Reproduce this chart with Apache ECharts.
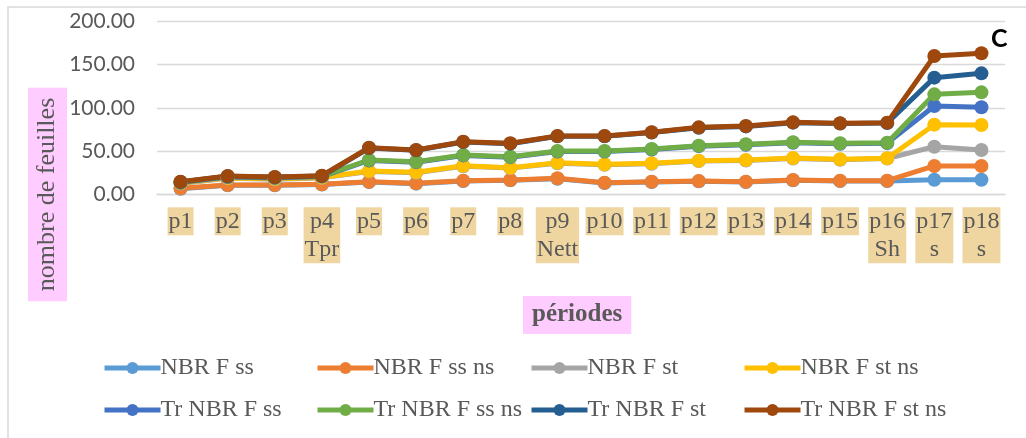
<!DOCTYPE html>
<html>
<head>
<meta charset="utf-8">
<script src="https://cdn.jsdelivr.net/npm/echarts@6/dist/echarts.min.js"></script>
<style>
  html, body { margin: 0; padding: 0; background: #ffffff; }
  #chart { width: 1026px; height: 438px; }
</style>
</head>
<body>
<div id="chart"></div>
<script>
// Periods (x categories)
const periods = ['p1', 'p2', 'p3', 'p4\nTpr', 'p5', 'p6', 'p7', 'p8', 'p9\nNett', 'p10',
                 'p11', 'p12', 'p13', 'p14', 'p15', 'p16\nSh', 'p17\ns', 'p18\ns'];

// Leaf counts per period
const nbrFss    = [6.5, 10.5, 10.5, 11.3, 14.2, 12.3, 15.3, 16.2, 18.0, 13.0, 14.2, 15.0, 14.2, 16.2, 15.3, 15.4, 16.8, 16.8];
const nbrFssNs  = [6.9, 10.8, 10.8, 11.6, 14.6, 12.7, 15.7, 16.6, 18.5, 13.4, 14.6, 15.4, 14.6, 16.6, 15.7, 15.7, 32.8, 32.8];
const nbrFst    = [12.5, 18.5, 17.5, 19.0, 26.5, 25.0, 32.5, 30.3, 36.0, 34.2, 35.4, 38.4, 39.2, 41.5, 40.0, 41.4, 55.1, 51.2];
const nbrFstNs  = [13.0, 19.0, 18.0, 19.5, 27.0, 25.5, 33.1, 30.8, 36.6, 34.7, 35.9, 38.9, 39.7, 42.0, 40.5, 41.7, 80.6, 80.2];
const trFss     = [13.5, 20.0, 19.0, 20.5, 39.2, 37.2, 45.0, 43.0, 49.6, 49.6, 51.9, 55.7, 57.4, 59.7, 58.5, 59.2, 102.2, 100.7];
const trFssNs   = [14.0, 20.5, 19.5, 21.0, 39.7, 37.7, 45.5, 43.5, 50.1, 50.1, 52.4, 56.2, 57.9, 60.2, 59.0, 59.7, 115.7, 118.0];
const trFst     = [14.2, 20.8, 19.7, 21.2, 53.5, 50.9, 60.5, 58.6, 67.1, 67.1, 71.4, 77.1, 78.6, 82.9, 81.8, 82.5, 135.0, 140.0];
const trFstNs   = [14.6, 21.2, 20.0, 21.5, 53.9, 51.3, 60.9, 59.0, 67.5, 67.5, 71.8, 77.5, 79.0, 83.3, 82.2, 82.9, 160.0, 163.2];

const seriesNames = ['NBR F ss', 'NBR F ss ns', 'NBR F st', 'NBR F st ns',
                     'Tr NBR F ss', 'Tr NBR F ss ns', 'Tr NBR F st', 'Tr NBR F st ns'];
const seriesData = [nbrFss, nbrFssNs, nbrFst, nbrFstNs, trFss, trFssNs, trFst, trFstNs];
const seriesColors = ['#5B9BD5', '#ED7D31', '#A5A5A5', '#FFC000',
                      '#4472C4', '#70AD47', '#255E91', '#9E480E'];

const yTicks = { min: 0, max: 200, interval: 50 };

const serif = '"Liberation Serif", "DejaVu Serif", serif';
const textGrey = '#595959';

const chart = echarts.init(document.getElementById('chart'), null, { renderer: 'canvas' });

// One legend block per item, laid out as a 4 x 2 grid
const legendCols = [102, 315, 529, 742];
const legendRows = [356, 398];
const legends = seriesNames.map((name, i) => ({
  data: [name],
  left: legendCols[i % 4],
  top: legendRows[Math.floor(i / 4)],
  itemWidth: 56,
  itemHeight: 15,
  itemGap: 0,
  padding: 0,
  selectedMode: false,
  lineStyle: { width: 5 },
  textStyle: { fontFamily: serif, fontSize: 24, color: textGrey, padding: [0, 0, 0, -5] }
}));

chart.setOption({
  animation: false,
  backgroundColor: '#ffffff',
  title: [
    {
      text: 'périodes',
      left: 523,
      top: 296,
      padding: [4, 9, 4, 9],
      backgroundColor: '#FFCCFF',
      textStyle: { fontFamily: serif, fontSize: 25, fontWeight: 'bold', color: textGrey, lineHeight: 30 }
    },
    {
      text: 'C',
      left: 991,
      top: 26,
      padding: 0,
      textStyle: { fontFamily: 'Lato, "Liberation Sans", sans-serif', fontSize: 25, fontWeight: 'bold', color: '#000000' }
    }
  ],
  legend: legends,
  grid: { left: 157, right: 21, top: 21.5, bottom: 243.7, containLabel: false },
  xAxis: {
    type: 'category',
    data: periods,
    boundaryGap: true,
    axisLine: { show: true, lineStyle: { color: '#D9D9D9', width: 1.3 } },
    axisTick: { show: false },
    axisLabel: {
      interval: 0,
      margin: 13,
      fontFamily: serif,
      fontSize: 24,
      lineHeight: 28,
      color: textGrey,
      backgroundColor: '#EFD6A0',
      padding: [0, 1, 0, 1]
    }
  },
  yAxis: {
    type: 'value',
    min: yTicks.min,
    max: yTicks.max,
    interval: yTicks.interval,
    axisLine: { show: false },
    axisTick: { show: false },
    splitLine: { lineStyle: { color: '#D9D9D9', width: 1.3 } },
    axisLabel: {
      margin: 22,
      fontFamily: 'Lato, "Liberation Sans", sans-serif',
      fontSize: 21,
      color: textGrey,
      formatter: v => v.toFixed(2)
    }
  },
  graphic: [
    {
      type: 'rect',
      silent: true,
      shape: { x: 8, y: 7, width: 1040, height: 460 },
      style: { fill: 'none', stroke: '#D9D9D9', lineWidth: 1.5 }
    },
    {
      type: 'text',
      silent: true,
      x: 47.5,
      y: 194.5,
      rotation: Math.PI / 2,
      style: {
        text: 'nombre de feuilles',
        font: '26px ' + serif,
        fill: textGrey,
        align: 'center',
        verticalAlign: 'middle',
        backgroundColor: '#FFCCFF',
        padding: [5, 10, 4, 10],
        lineHeight: 30
      }
    }
  ],
  series: seriesNames.map((name, i) => ({
    name: name,
    type: 'line',
    data: seriesData[i],
    symbol: 'circle',
    symbolSize: 14,
    color: seriesColors[i],
    lineStyle: { width: 5, color: seriesColors[i] },
    itemStyle: { color: seriesColors[i] },
    emphasis: { disabled: true }
  }))
});
</script>
</body>
</html>
